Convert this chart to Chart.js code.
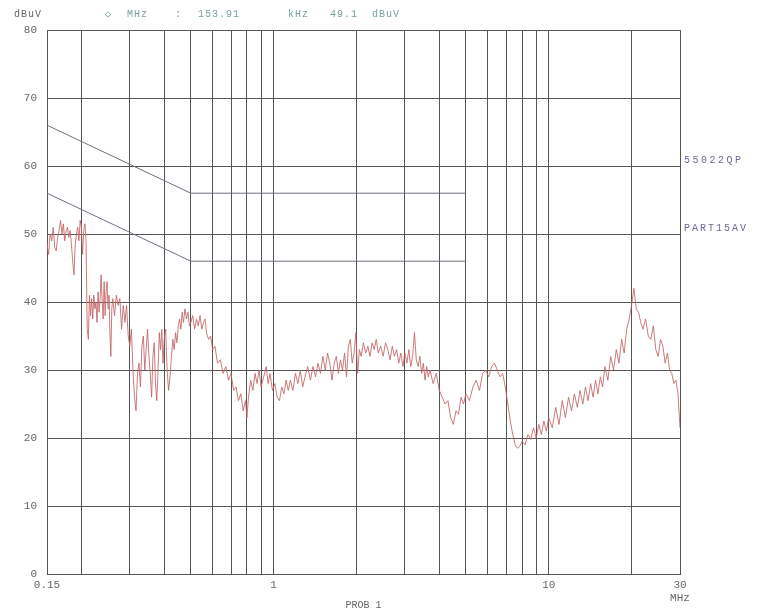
<!DOCTYPE html>
<html>
<head>
<meta charset="utf-8">
<script src="https://cdn.jsdelivr.net/npm/chart.js@4/dist/chart.umd.min.js"></script>
<style>
  html, body { margin: 0; padding: 0; background: #fff; }
  #wrap { position: relative; width: 757px; height: 613px; }
</style>
</head>
<body>
<div id="wrap"><canvas id="emiChart" width="757" height="613"></canvas></div>
<script>
const freqs = [
  0.150,0.152,0.154,0.156,0.158,0.160,0.162,0.164,0.166,0.168,0.170,0.172,0.174,0.176,0.178,0.180,
  0.182,0.184,0.186,0.188,0.190,0.192,0.194,0.196,0.198,0.200,0.202,0.204,0.206,0.208,
  0.210,0.212,0.214,0.216,0.218,0.220,0.222,0.224,0.226,0.228,0.230,0.232,0.234,0.236,0.238,0.240,
  0.242,0.244,0.246,0.248,0.250,0.252,0.254,0.256,0.258,0.260,0.264,0.268,0.272,0.276,0.280,0.284,
  0.288,0.292,0.296,0.300,0.304,0.308,0.312,0.316,0.320,0.324,0.328,0.332,0.336,0.340,0.344,0.348,
  0.352,0.356,0.360,0.364,0.368,0.372,0.376,0.380,0.384,0.388,0.392,0.396,0.400,0.405,0.410,0.415,
  0.420,0.425,0.430,0.435,0.440,0.445,0.450,0.455,0.460,0.465,0.470,0.476,0.482,0.488,0.494,0.500,
  0.508,0.516,0.524,0.532,0.540,0.548,0.556,0.563,0.570,0.580,0.590,0.600,0.612,0.625,0.640,0.655,
  0.670,0.685,0.700,0.715,0.730,0.745,0.760,0.775,0.790,0.800,0.810,0.825,0.840,0.856,0.870,0.885,
  0.900,0.920,0.940,0.955,0.970,0.990,1.010,1.030,1.050,1.070,1.090,1.110,1.130,1.150,1.175,1.200,
  1.225,1.250,1.275,1.300,1.330,1.360,1.390,1.420,1.450,1.480,1.510,1.540,1.570,1.600,1.630,1.660,
  1.690,1.720,1.750,1.780,1.810,1.840,1.870,1.900,1.930,1.960,1.990,2.020,2.050,2.080,2.120,2.160,
  2.200,2.240,2.280,2.320,2.360,2.400,2.450,2.500,2.550,2.600,2.650,2.700,2.750,2.800,2.850,2.900,
  2.950,3.000,3.050,3.100,3.150,3.200,3.250,3.300,3.350,3.400,3.450,3.500,3.550,3.600,3.650,3.700,
  3.800,3.900,4.000,4.100,4.200,4.300,4.400,4.500,4.600,4.700,4.800,4.900,5.000,5.150,5.300,5.450,
  5.600,5.750,5.900,6.050,6.200,6.350,6.500,6.650,6.800,6.950,7.100,7.250,7.400,7.550,7.700,7.850,
  8.000,8.200,8.400,8.600,8.800,9.000,9.200,9.400,9.600,9.800,10.00,10.30,10.60,10.90,11.20,11.50,
  11.80,12.10,12.40,12.70,13.00,13.30,13.60,13.90,14.20,14.50,14.80,15.10,15.40,15.70,16.00,16.40,
  16.80,17.20,17.60,18.00,18.40,18.80,19.20,19.60,20.00,20.40,20.80,21.20,21.60,22.00,22.50,23.00,
  23.50,24.00,24.50,25.00,25.50,26.00,26.50,27.00,27.50,28.00,28.50,29.00,29.50,30.00
];
const levels = [
  48.5,47.0,50.0,49.0,51.0,48.0,47.5,49.5,50.5,52.0,50.0,51.5,49.0,50.5,51.0,49.5,
  50.5,48.5,46.0,44.0,48.5,50.0,51.0,49.0,52.0,51.0,47.0,50.5,51.5,49.0,
  36.0,34.5,41.0,38.0,40.5,37.5,41.0,39.0,40.0,37.0,41.5,38.5,40.5,44.0,40.0,37.5,
  43.0,38.0,41.5,43.0,39.0,41.0,35.5,32.0,39.0,40.5,38.0,41.0,39.5,40.5,36.0,39.5,
  37.0,39.5,35.0,33.5,36.0,30.0,26.0,24.0,29.5,31.0,27.5,33.5,35.0,30.0,33.0,36.0,
  32.0,29.5,26.0,32.0,34.0,28.0,25.5,30.0,35.5,33.0,36.0,31.0,34.5,36.0,30.0,27.0,
  29.0,32.0,34.5,33.0,35.5,34.0,36.5,37.5,36.0,38.5,37.0,39.0,37.5,38.5,36.5,37.0,
  38.0,36.0,37.5,36.5,38.0,36.0,37.0,37.5,35.5,34.5,35.0,33.0,33.5,31.0,31.5,29.5,
  30.5,28.5,29.5,27.0,27.5,25.5,26.5,24.0,25.5,23.0,26.0,28.5,27.0,29.5,28.0,30.0,
  27.5,29.0,30.5,28.0,29.5,27.0,28.0,26.0,25.5,27.5,26.5,28.5,27.0,28.5,27.0,29.5,
  28.0,30.0,27.5,29.0,30.5,28.5,30.5,29.0,31.0,29.5,32.0,30.0,32.5,31.0,28.5,31.0,
  32.0,29.5,31.5,30.0,32.5,29.0,33.5,34.5,31.0,32.5,35.5,29.5,33.0,32.0,34.0,32.5,
  33.5,32.0,34.0,33.0,34.5,32.5,33.5,32.0,34.0,33.0,31.5,33.5,32.0,33.0,31.0,32.5,
  30.5,32.5,31.0,33.0,30.5,32.0,35.5,31.5,30.5,32.0,29.5,31.0,28.5,30.5,29.0,30.0,
  28.0,29.5,27.0,26.0,25.0,25.5,23.0,22.0,24.0,23.5,26.0,25.0,26.5,25.5,27.5,28.5,
  27.0,29.5,30.0,29.0,30.5,31.0,30.0,29.0,29.5,27.5,25.0,22.5,20.5,19.0,18.5,18.8,
  19.5,19.0,20.5,19.8,21.5,20.0,22.0,20.5,22.5,21.0,23.0,21.5,24.5,22.0,25.5,23.0,
  26.0,24.0,26.5,24.5,27.0,25.0,27.5,25.5,28.0,26.0,28.5,26.5,29.0,27.5,30.5,28.5,
  32.0,30.0,33.0,31.0,34.5,32.5,36.0,37.5,39.5,42.0,39.0,38.5,37.0,36.0,37.5,35.0,
  34.5,36.5,33.0,32.0,34.5,33.5,31.0,32.5,30.0,29.5,28.0,28.5,26.5,21.5
];

// limit lines
const limitFreqs = [0.15, 0.5, 5];
const qpLimit = [66, 56, 56];
const avLimit = [56, 46, 46];

// axes
const gridFreqs = [0.15,0.2,0.3,0.4,0.5,0.6,0.7,0.8,0.9,1,2,3,4,5,6,7,8,9,10,20,30];
const freqLabels = { 0.15: '0.15', 1: '1', 10: '10', 30: ['30', 'MHz'] };
const yTicks = [0,10,20,30,40,50,60,70,80];
const headerParts = [['◇', 105], ['MHz', 127], [':', 175], ['153.91', 198], ['kHz', 288], ['49.1', 330], ['dBuV', 372]];

const mono = 'Liberation Mono, DejaVu Sans Mono, monospace';

const textPlugin = {
  id: 'emiText',
  afterDraw(chart) {
    const c = chart.ctx, y = chart.scales.y, x = chart.scales.x;
    c.save();
    c.font = '10px ' + mono;
    c.textBaseline = 'alphabetic';
    c.textAlign = 'left';
    c.letterSpacing = '1px';
    c.fillStyle = '#666';
    c.fillText('dBuV', 14, 17);
    c.fillStyle = '#7aa0a0';
    headerParts.forEach(([t, px]) => c.fillText(t, px, 17));
    c.fillStyle = '#6a6a99';
    c.letterSpacing = '2.5px';
    c.fillText('55022QP', x.right + 4, y.getPixelForValue(60) - 3);
    c.letterSpacing = '2px';
    c.fillText('PART15AV', x.right + 4, y.getPixelForValue(50) - 3);
    c.restore();
  }
};

new Chart(document.getElementById('emiChart'), {
  type: 'line',
  data: {
    datasets: [
      {
        label: 'trace',
        data: freqs.map((f, i) => ({ x: f, y: levels[i] })),
        borderColor: 'rgba(195, 100, 100, 0.85)',
        borderWidth: 1,
        pointRadius: 0,
        tension: 0
      },
      {
        label: '55022QP',
        data: limitFreqs.map((f, i) => ({ x: f, y: qpLimit[i] })),
        borderColor: '#6f6f80',
        borderWidth: 1,
        pointRadius: 0
      },
      {
        label: 'PART15AV',
        data: limitFreqs.map((f, i) => ({ x: f, y: avLimit[i] })),
        borderColor: '#6f6f80',
        borderWidth: 1,
        pointRadius: 0
      }
    ]
  },
  options: {
    responsive: false,
    animation: false,
    layout: { padding: { left: 0, right: 77, top: 30, bottom: 2 } },
    plugins: { legend: { display: false }, tooltip: { enabled: false } },
    scales: {
      x: {
        type: 'logarithmic',
        min: 0.15,
        max: 30,
        afterBuildTicks: s => { s.ticks = gridFreqs.map(v => ({ value: v })); },
        afterFit: s => { s.height = 37; },
        grid: { color: '#555', lineWidth: 1, drawTicks: false },
        border: { color: '#555' },
        ticks: {
          autoSkip: false,
          maxRotation: 0,
          padding: 4,
          color: '#666',
          font: { family: mono, size: 11 },
          callback: v => freqLabels[v] || ''
        },
        title: {
          display: true,
          text: 'PROB 1',
          color: '#666',
          font: { family: mono, size: 10 },
          padding: { top: 0, bottom: 0 }
        }
      },
      y: {
        min: 0,
        max: 80,
        afterBuildTicks: s => { s.ticks = yTicks.map(v => ({ value: v })); },
        afterFit: s => { s.width = 47; },
        grid: { color: '#555', lineWidth: 1, drawTicks: false },
        border: { color: '#555' },
        ticks: {
          padding: 10,
          color: '#666',
          font: { family: mono, size: 11 }
        }
      }
    }
  },
  plugins: [textPlugin]
});
</script>
</body>
</html>
